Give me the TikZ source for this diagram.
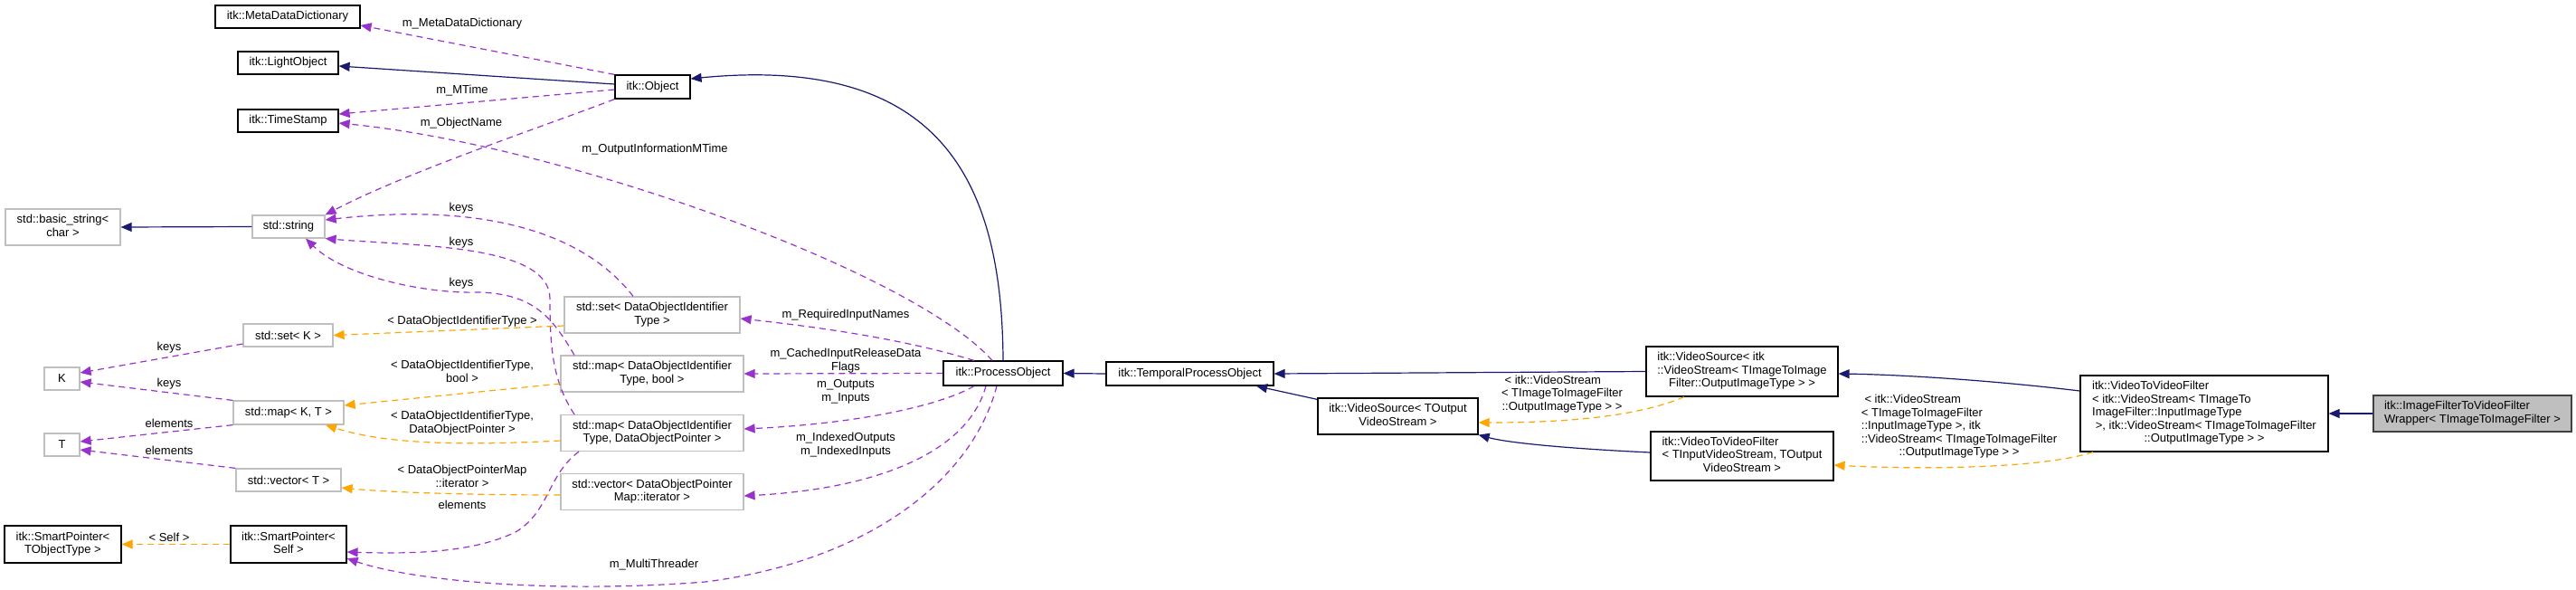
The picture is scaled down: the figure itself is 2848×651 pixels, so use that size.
\documentclass[tikz,border=0pt]{standalone}
\usepackage{fontspec}
\setmainfont{Liberation Sans}
\usetikzlibrary{arrows.meta,calc}
\definecolor{navy}{RGB}{25,25,112}
\definecolor{orchid}{RGB}{153,50,204}
\definecolor{orng}{RGB}{255,165,0}
\definecolor{extgray}{RGB}{191,191,191}
\definecolor{mainfill}{RGB}{191,191,191}
\definecolor{maindraw}{RGB}{64,64,64}
\newcommand{\tl}[1]{\begin{tabular}{@{}l@{}}#1\end{tabular}}
\newcommand{\tc}[1]{\begin{tabular}{@{}c@{}}#1\end{tabular}}
\newcommand{\lc}[1]{\multicolumn{1}{@{}c@{}}{#1}}
\begin{document}
\begin{tikzpicture}[x=1pt,y=-1pt,
  font=\fontsize{13}{14.5}\selectfont,
  cls/.style={draw=black, line width=1.2pt, fill=white, inner sep=0pt},
  ext/.style={draw=extgray, line width=1.2pt, fill=white, inner sep=0pt},
  mainbox/.style={draw=maindraw, line width=1.2pt, fill=mainfill, inner sep=0pt},
  lbl/.style={inner sep=0pt},
  inh/.style={draw=navy, line width=1.2pt, -{Triangle[length=12pt,width=10pt]}},
  use/.style={draw=orchid, line width=1.2pt, dash pattern=on 7pt off 5pt, -{Triangle[length=12pt,width=10pt]}},
  tmpl/.style={draw=orng, line width=1.2pt, dash pattern=on 7pt off 5pt, -{Triangle[length=12pt,width=10pt]}}]
\fill[white] (0,0) rectangle (2848,651);
\useasboundingbox (0,0) rectangle (2848,651);

% nodes
\node[cls, minimum width=160pt, minimum height=25pt] (MDD) at (318,18.5) {itk::MetaDataDictionary};
\node[cls, minimum width=111pt, minimum height=25pt] (LO) at (318.5,69.5) {itk::LightObject};
\node[cls, minimum width=111pt, minimum height=25pt] (TS) at (318.5,133.5) {itk::TimeStamp};
\node[cls, minimum width=83pt, minimum height=26pt] (OBJ) at (721.5,96) {itk::Object};
\node[ext, minimum width=127pt, minimum height=40pt] (BS) at (69.5,251) {\tl{std::basic\_string<\\\lc{char >}}};
\node[ext, minimum width=80pt, minimum height=25pt] (STR) at (319,250.5) {std::string};
\node[ext, minimum width=99pt, minimum height=25pt] (SETK) at (318.5,370.5) {std::set< K >};
\node[ext, minimum width=39pt, minimum height=25pt] (K) at (68.5,418.5) {K};
\node[ext, minimum width=122pt, minimum height=26pt] (MAPKT) at (319,456) {std::map< K, T >};
\node[ext, minimum width=39pt, minimum height=25pt] (T) at (68.5,491.5) {T};
\node[ext, minimum width=116pt, minimum height=25pt] (VECT) at (319,530.5) {std::vector< T >};
\node[cls, minimum width=129pt, minimum height=41pt] (SPT) at (69.5,601.5) {\tl{itk::SmartPointer<\\\lc{TObjectType >}}};
\node[cls, minimum width=128pt, minimum height=41pt] (SPS) at (319,601.5) {\tl{itk::SmartPointer<\\\lc{Self >}}};
\node[ext, minimum width=194pt, minimum height=40pt] (SETD) at (721,348) {\tl{std::set< DataObjectIdentifier\\\lc{Type >}}};
\node[ext, minimum width=202pt, minimum height=40pt] (MAPB) at (721,413) {\tl{std::map< DataObjectIdentifier\\\lc{Type, bool >}}};
\node[ext, minimum width=202pt, minimum height=40pt] (MAPD) at (721,478.5) {\tl{std::map< DataObjectIdentifier\\\lc{Type, DataObjectPointer >}}};
\node[ext, minimum width=202pt, minimum height=40pt] (VECD) at (721,543.5) {\tl{std::vector< DataObjectPointer\\\lc{Map::iterator >}}};
\node[cls, minimum width=132pt, minimum height=27pt] (PO) at (1109,412.5) {itk::ProcessObject};
\node[cls, minimum width=185pt, minimum height=26pt] (TPO) at (1315.5,413) {itk::TemporalProcessObject};
\node[cls, minimum width=177pt, minimum height=40pt] (VSO) at (1545.5,460) {\tl{itk::VideoSource< TOutput\\\lc{VideoStream >}}};
\node[cls, minimum width=212pt, minimum height=55pt] (VSI) at (1926,410.5) {\tl{itk::VideoSource< itk\\::VideoStream< TImageToImage\\\lc{Filter::OutputImageType > >}}};
\node[cls, minimum width=202pt, minimum height=54pt] (VTI) at (1926,504) {\tl{itk::VideoToVideoFilter\\< TInputVideoStream, TOutput\\\lc{VideoStream >}}};
\node[cls, minimum width=274pt, minimum height=84pt] (VTV) at (2437,457) {\tl{itk::VideoToVideoFilter\\< itk::VideoStream< TImageTo\\ImageFilter::InputImageType\\\ >, itk::VideoStream< TImageToImageFilter\\\lc{::OutputImageType > >}}};
\node[mainbox, minimum width=219pt, minimum height=40pt] (WR) at (2733.5,457) {\tl{itk::ImageFilterToVideoFilter\\\lc{Wrapper< TImageToImageFilter >}}};

% inheritance
\draw[inh] ([yshift=3pt]OBJ.west) -- ([yshift=-3.5pt]LO.east);
\draw[inh] (PO.north) .. controls (1108,200) and (1040,60) .. ([yshift=9pt]OBJ.east);
\draw[inh] (TPO.west) -- (PO.east);
\draw[inh] ([yshift=-2pt]VSO.north west) -- ([xshift=73.5pt]TPO.south);
\draw[inh] (VSI.west) -- (TPO.east);
\draw[inh] ([yshift=4pt]VTI.west) .. controls (1740,496) and (1670,490) .. (VSO.south east);
\draw[inh] ([yshift=25pt]VTV.west) .. controls (2200,420) and (2100,414) .. ([yshift=-2.5pt]VSI.east);
\draw[inh] (WR.west) -- (VTV.east);
\draw[inh] (STR.west) -- (BS.east);

% usage
\draw[use] (OBJ.north west) -- ([yshift=-9.5pt]MDD.east);
\draw[use] ([yshift=-3pt]OBJ.west) -- ([yshift=7.5pt]TS.east);
\draw[use] ([xshift=-12pt]PO.north) .. controls (1010,300) and (620,160) .. ([yshift=-2.5pt]TS.east);
\draw[use] (OBJ.south west) .. controls (600,140) and (450,190) .. (STR.north east);
\draw[use] ([xshift=-21pt]SETD.north) .. controls (640,250) and (520,225) .. ([yshift=7.5pt]STR.east);
\draw[use] ([xshift=-86pt]MAPD.north) .. controls (610,420) and (608,380) .. (608,330) .. controls (608,270) and (460,272) .. (STR.south east);
\draw[use] ([xshift=-86pt]MAPB.north) .. controls (610,350) and (590,325) .. (530,323) .. controls (470,325) and (380,305) .. ([xshift=19pt]STR.south);
\draw[use] ([xshift=-81pt]MAPD.south) .. controls (605,525) and (608,565) .. (570,588) .. controls (520,612) and (450,612) .. ([yshift=-8.5pt]SPS.east);
\draw[use] ([xshift=-32pt]PO.north) .. controls (1000,375) and (910,362) .. ([yshift=-4pt]SETD.east);
\draw[use] (PO.west) -- (MAPB.east);
\draw[use] ([xshift=-32pt]PO.south) .. controls (1040,448) and (950,468) .. ([yshift=4.5pt]MAPD.east);
\draw[use] ([xshift=-19pt]PO.south) .. controls (1070,500) and (970,540) .. ([yshift=-4.5pt]VECD.east);
\draw[use] ([xshift=-7pt]PO.south) .. controls (1075,530) and (960,620) .. (780,643) .. controls (600,657) and (450,640) .. ([yshift=-15.5pt]SPS.east);
\draw[use] ([yshift=-9.5pt]SETK.west) -- ([yshift=6.5pt]K.east);
\draw[use] (MAPKT.north west) -- ([yshift=-3.5pt]K.east);
\draw[use] (MAPKT.south west) -- ([yshift=3.5pt]T.east);
\draw[use] (VECT.north west) -- ([yshift=-5.5pt]T.east);

% template instances
\draw[tmpl] ([yshift=-12pt]SETD.west) -- (SETK.east);
\draw[tmpl] ([yshift=-11pt]MAPB.west) -- ([yshift=8pt]MAPKT.east);
\draw[tmpl] ([yshift=-8.5pt]MAPD.west) .. controls (520,492) and (430,492) .. ([xshift=41pt]MAPKT.south);
\draw[tmpl] ([yshift=-3.5pt]VECD.west) .. controls (540,547) and (440,545) .. ([yshift=-8.5pt]VECT.east);
\draw[tmpl] (SPS.west) -- (SPT.east);
\draw[tmpl] ([xshift=-64pt]VSI.south) .. controls (1800,465) and (1700,467) .. ([yshift=-7pt]VSO.east);
\draw[tmpl] ([xshift=-123pt]VTV.south) .. controls (2250,520) and (2100,518) .. ([yshift=-10pt]VTI.east);

% labels
\node[lbl] (L1) at (511,26) {m\_MetaDataDictionary};
\node[lbl] (L2) at (511,100) {m\_MTime};
\node[lbl] (L3) at (510,136) {m\_ObjectName};
\node[lbl] (L4) at (724,165) {m\_OutputInformationMTime};
\node[lbl] (L5) at (510,230) {keys};
\node[lbl] (L6) at (510,268) {keys};
\node[lbl] (L7) at (510,313) {keys};
\node[lbl] (L8) at (187,384) {keys};
\node[lbl] (L9) at (187,424) {keys};
\node[lbl] (L10) at (187,468) {elements};
\node[lbl] (L11) at (187,498) {elements};
\node[lbl] (L12) at (511,355) {< DataObjectIdentifierType >};
\node[lbl] (L13) at (511,412) {\tc{< DataObjectIdentifierType,\\bool >}};
\node[lbl] (L14) at (511,468) {\tc{< DataObjectIdentifierType,\\DataObjectPointer >}};
\node[lbl] (L15) at (511,528) {\tc{< DataObjectPointerMap\\::iterator >}};
\node[lbl] (L16) at (511,558) {elements};
\node[lbl] (L17) at (187,594) {< Self >};
\node[lbl] (L18) at (723,624) {m\_MultiThreader};
\node[lbl] (L19) at (935,348) {m\_RequiredInputNames};
\node[lbl] (L20) at (935,399) {\tc{m\_CachedInputReleaseData\\Flags}};
\node[lbl] (L21) at (935,433) {\tc{m\_Outputs\\m\_Inputs}};
\node[lbl] (L22) at (935,492) {\tc{m\_IndexedOutputs\\m\_IndexedInputs}};
\node[lbl] (L23) at (1727,436) {\tl{\ < itk::VideoStream\\< TImageToImageFilter\\\lc{::OutputImageType > >}}};
\node[lbl] (L24) at (2166,472) {\tl{\ < itk::VideoStream\\< TImageToImageFilter\\::InputImageType >, itk\\::VideoStream< TImageToImageFilter\\\lc{::OutputImageType > >}}};
\end{tikzpicture}
\end{document}
